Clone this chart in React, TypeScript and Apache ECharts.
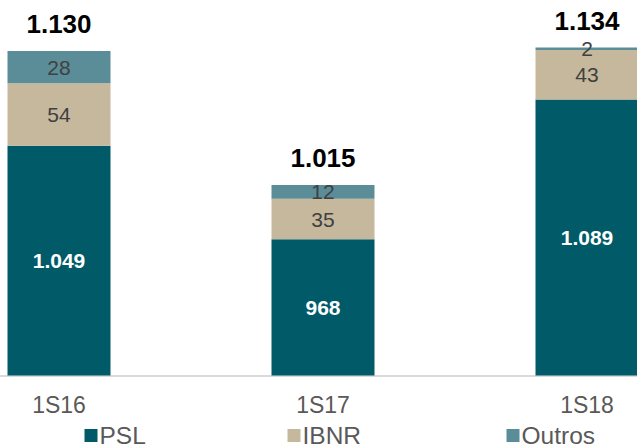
import React, { useEffect, useRef } from "react";
import * as echarts from "echarts";

const categories = ["1S16", "1S17", "1S18"];
const psl = [1049, 968, 1089];
const ibnr = [54, 35, 43];
const outros = [28, 12, 2];
const totals = [1130, 1015, 1134];

const FONT = '"Liberation Sans", Arial, Helvetica, sans-serif';
const OFFSET = 73.5; // chart canvas extends beyond the visible window on the left
const fmt = (v: number) => {
  const s = String(Math.round(v));
  return s.replace(/\B(?=(\d{3})+(?!\d))/g, ".");
};

export default function App() {
  const ref = useRef<HTMLDivElement>(null);
  useEffect(() => {
    if (!ref.current) return;
    const chart = echarts.init(ref.current, undefined, { renderer: "svg" });
    const legendBase = {
      top: 423,
      icon: "rect",
      itemWidth: 13,
      itemHeight: 13,
      itemGap: 0,
      textStyle: {
        fontFamily: FONT,
        fontSize: 24.5,
        lineHeight: 22,
        color: "#595959",
        padding: [0, 0, 0, -3],
      },
      padding: 0,
    };
    chart.setOption({
      animation: false,
      textStyle: { fontFamily: FONT },
      grid: { left: 0, right: 0, top: 6, height: 369.5 },
      legend: [
        { ...legendBase, left: 84 + OFFSET, data: ["PSL"] },
        { ...legendBase, left: 287 + OFFSET, data: ["IBNR"] },
        { ...legendBase, left: 506 + OFFSET, data: ["Outros"] },
      ],
      xAxis: {
        type: "category",
        data: categories,
        axisLine: { lineStyle: { color: "#D9D9D9", width: 2 } },
        axisTick: { show: false },
        axisLabel: { fontSize: 23, color: "#595959", margin: 18, fontFamily: FONT },
      },
      yAxis: { type: "value", min: 850, max: 1170, show: false, splitLine: { show: false } },
      series: [
        {
          name: "PSL",
          type: "bar",
          stack: "a",
          barWidth: 103,
          data: psl,
          itemStyle: { color: "#005A68" },
          label: {
            show: true,
            position: "inside",
            color: "#FFFFFF",
            fontWeight: "bold",
            fontSize: 21,
            fontFamily: FONT,
            formatter: (p: any) => fmt(p.value),
          },
        },
        {
          name: "IBNR",
          type: "bar",
          stack: "a",
          data: ibnr,
          itemStyle: { color: "#C5B89D" },
          label: {
            show: true,
            position: "inside",
            color: "#404040",
            fontSize: 21,
            fontFamily: FONT,
          },
        },
        {
          name: "Outros",
          type: "bar",
          stack: "a",
          data: outros,
          itemStyle: { color: "#5A8D98" },
          label: {
            show: true,
            position: "inside",
            color: "#404040",
            fontSize: 21,
            fontFamily: FONT,
          },
        },
        {
          name: "Total",
          type: "bar",
          stack: "a",
          data: totals.map(() => 0),
          itemStyle: { color: "transparent" },
          label: {
            show: true,
            position: "top",
            distance: 14,
            color: "#000000",
            fontWeight: "bold",
            fontSize: 26,
            fontFamily: FONT,
            formatter: (p: any) => fmt(totals[p.dataIndex]),
          },
        },
      ],
    });
    return () => chart.dispose();
  }, []);
  return (
    <div
      style={{
        position: "absolute",
        left: 0,
        top: 0,
        width: 637,
        height: 448,
        overflow: "hidden",
        background: "#fff",
      }}
    >
      <div
        ref={ref}
        style={{ position: "absolute", left: -OFFSET, top: 0, width: 792, height: 448 }}
      />
    </div>
  );
}
